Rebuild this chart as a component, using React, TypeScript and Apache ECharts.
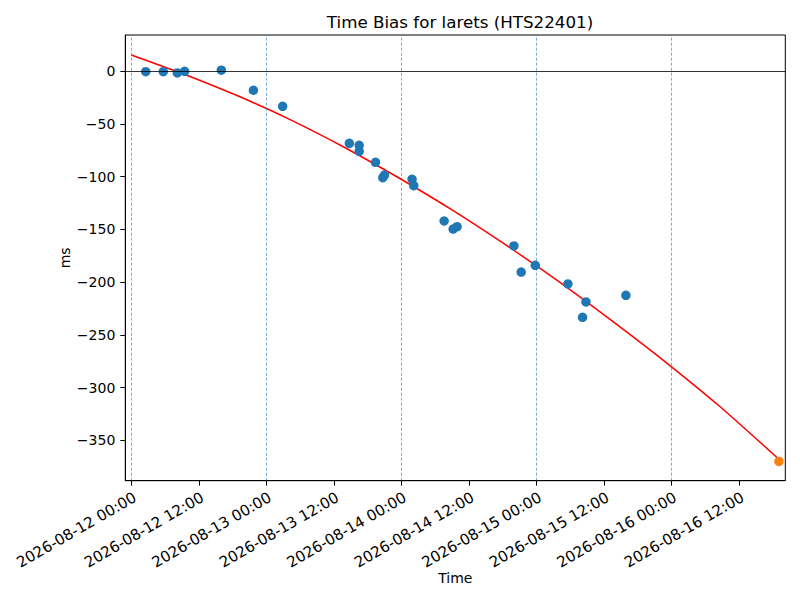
import React, { useEffect, useRef } from "react";
import * as echarts from "echarts";

const BASE = "2026-08-12 00:00";

const obsTimes = [
  "2026-08-12 02:34", "2026-08-12 05:41", "2026-08-12 08:11", "2026-08-12 09:29",
  "2026-08-12 16:00", "2026-08-12 21:42", "2026-08-13 02:54", "2026-08-13 14:45",
  "2026-08-13 16:30", "2026-08-13 16:30", "2026-08-13 19:24", "2026-08-13 20:42",
  "2026-08-13 21:00", "2026-08-14 01:54", "2026-08-14 02:12", "2026-08-14 07:36",
  "2026-08-14 09:12", "2026-08-14 09:54", "2026-08-14 20:00", "2026-08-14 21:18",
  "2026-08-14 23:48", "2026-08-15 05:36", "2026-08-15 08:12", "2026-08-15 08:48",
  "2026-08-15 15:54",
];
const obsBias = [
  -0.4, -0.4, -1.6, 0, 1, -18, -33.2, -68.3,
  -70.2, -75.9, -86.3, -100.9,
  -98.4, -102.4, -108.5, -142,
  -149.6, -147.4, -165.7, -190.4,
  -184, -201.7, -233.3, -218.8,
  -212.5,
];

const predTimes = ["2026-08-16 19:06"];
const predBias = [-370];

const fitTimes = [
  "2026-08-12 00:00", "2026-08-12 09:30", "2026-08-12 19:00", "2026-08-13 04:30",
  "2026-08-13 14:00", "2026-08-13 23:30", "2026-08-14 09:00", "2026-08-14 18:30",
  "2026-08-15 04:00", "2026-08-15 13:30", "2026-08-15 23:00", "2026-08-16 08:30",
  "2026-08-16 19:06",
];
const fitBias = [15.5, -3, -23.5, -46.5, -72.5, -101, -131.5, -164.5, -199.5, -237, -276, -317.5, -368];

const dayLines = ["2026-08-12 00:00", "2026-08-13 00:00", "2026-08-14 00:00", "2026-08-15 00:00", "2026-08-16 00:00"];
const xTickLabels = [
  "2026-08-12 00:00", "2026-08-12 12:00", "2026-08-13 00:00", "2026-08-13 12:00",
  "2026-08-14 00:00", "2026-08-14 12:00", "2026-08-15 00:00", "2026-08-15 12:00",
  "2026-08-16 00:00", "2026-08-16 12:00",
];
const yTicks = [-350, -300, -250, -200, -150, -100, -50, 0];

const X_MIN = "2026-08-11 22:56";
const X_MAX = "2026-08-16 20:14";
const Y_MIN = -388.3;
const Y_MAX = 34.4;

function toMs(s: string): number {
  const [d, t] = s.split(" ");
  const [y, mo, da] = d.split("-").map(Number);
  const [h, mi] = t.split(":").map(Number);
  return Date.UTC(y, mo - 1, da, h, mi);
}
const baseMs = toMs(BASE);
function toH(s: string): number {
  return (toMs(s) - baseMs) / 3600000;
}
function pad(n: number) {
  return n < 10 ? "0" + n : "" + n;
}
function fmt(h: number): string {
  const d = new Date(baseMs + Math.round(h * 60) * 60000);
  return `${d.getUTCFullYear()}-${pad(d.getUTCMonth() + 1)}-${pad(d.getUTCDate())} ${pad(d.getUTCHours())}:${pad(d.getUTCMinutes())}`;
}

const FONT = "DejaVu Sans";

export default function App() {
  const ref = useRef<HTMLDivElement>(null);
  useEffect(() => {
    if (!ref.current) return;
    const chart = echarts.init(ref.current, undefined, { renderer: "svg" });
    const option: any = {
      animation: false,
      backgroundColor: "#ffffff",
      textStyle: { fontFamily: FONT },
      title: {
        text: "Time Bias for larets (HTS22401)",
        left: 455,
        textAlign: "center",
        top: 8,
        textStyle: { fontFamily: FONT, fontSize: 16.7, fontWeight: "normal", color: "#000" },
      },
      grid: {
        left: 125.3,
        right: 14.7,
        top: 35,
        bottom: 119.3,
        show: true,
        borderColor: "#000",
        borderWidth: 1,
        backgroundColor: "transparent",
      },
      xAxis: {
        type: "value",
        min: toH(X_MIN),
        max: toH(X_MAX),
        name: "Time",
        nameLocation: "middle",
        nameGap: 90,
        nameMoveOverlap: false,
        nameTextStyle: { fontFamily: FONT, fontSize: 14, color: "#000" },
        axisLine: { show: true, onZero: false, lineStyle: { color: "#000", width: 1 } },
        axisTick: {
          show: true,
          length: 5,
          lineStyle: { color: "#000" },
          customValues: xTickLabels.map(toH),
        },
        axisLabel: {
          show: true,
          rotate: 30,
          fontFamily: FONT,
          fontSize: 15,
          color: "#000",
          margin: 9,
          align: "right",
          verticalAlign: "top",
          customValues: xTickLabels.map(toH),
          formatter: (v: number) => fmt(v),
        },
        splitLine: { show: false },
      },
      yAxis: {
        type: "value",
        min: Y_MIN,
        max: Y_MAX,
        name: "ms",
        nameLocation: "middle",
        nameRotate: 90,
        nameGap: 53,
        nameMoveOverlap: false,
        nameTextStyle: { fontFamily: FONT, fontSize: 14, color: "#000" },
        axisLine: { show: true, onZero: false, lineStyle: { color: "#000", width: 1 } },
        axisTick: { show: true, length: 5, lineStyle: { color: "#000" }, customValues: yTicks },
        axisLabel: {
          fontFamily: FONT,
          fontSize: 14,
          color: "#000",
          margin: 10,
          customValues: yTicks,
          formatter: (v: number) => (v < 0 ? "\u2212" + Math.abs(v) : String(v)),
        },
        splitLine: { show: false },
      },
      series: [
        {
          type: "line",
          name: "fit",
          data: fitTimes.map((t, i) => [toH(t), fitBias[i]]),
          showSymbol: false,
          symbol: "none",
          smooth: 0.2,
          lineStyle: { color: "#ff0000", width: 1.5 },
          z: 3,
          markLine: {
            silent: true,
            symbol: ["none", "none"],
            label: { show: false },
            data: [
              ...dayLines.map((d) => ({
                xAxis: toH(d),
                lineStyle: { color: "#1f77b4", type: [3, 2], width: 0.6 },
              })),
              { yAxis: 0, lineStyle: { color: "#000", type: "solid", width: 0.8 } },
            ],
          },
        },
        {
          type: "scatter",
          name: "obs",
          data: obsTimes.map((t, i) => [toH(t), obsBias[i]]),
          symbol: "circle",
          symbolSize: 9.5,
          itemStyle: { color: "#1f77b4", opacity: 1 },
          z: 4,
        },
        {
          type: "scatter",
          name: "pred",
          data: predTimes.map((t, i) => [toH(t), predBias[i]]),
          symbol: "circle",
          symbolSize: 9.5,
          itemStyle: { color: "#ff7f0e", opacity: 1 },
          z: 5,
        },
      ],
    };
    chart.setOption(option);
    return () => chart.dispose();
  }, []);
  return <div ref={ref} style={{ width: 800, height: 600, marginLeft: -8, marginTop: -8 }} />;
}
